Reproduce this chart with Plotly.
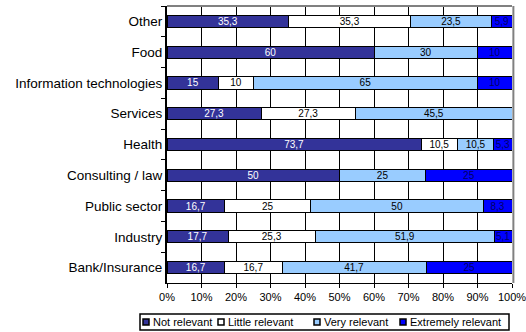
import plotly.graph_objects as go

categories = ["Other", "Food", "Information technologies", "Services", "Health",
              "Consulting / law", "Public sector", "Industry", "Bank/Insurance"]

not_relevant = [35.3, 60, 15, 27.3, 73.7, 50, 16.7, 17.7, 16.7]
little_relevant = [35.3, 0, 10, 27.3, 10.5, 0, 25, 25.3, 16.7]
very_relevant = [23.5, 30, 65, 45.5, 10.5, 25, 50, 51.9, 41.7]
extremely_relevant = [5.9, 10, 10, 0, 5.3, 25, 8.3, 5.1, 25]

series = [
    ("Not relevant", not_relevant, "#333399", "white"),
    ("Little relevant", little_relevant, "#FFFFFF", "black"),
    ("Very relevant", very_relevant, "#99CCFF", "black"),
    ("Extremely relevant", extremely_relevant, "#0000FF", "#000066"),
]

W, H = 526, 332
L, R, T, B = 167, 14, 6, 49
pw, ph = W - L - R, H - T - B


def px_x(x):
    return (x - L) / pw


def px_y(y):
    return (H - B - y) / ph


def label(v):
    if v == 0:
        return ""
    return ("%g" % v).replace(".", ",")


fig = go.Figure()
for name, vals, color, tcolor in series:
    fig.add_trace(go.Bar(
        y=categories, x=vals, name=name, orientation="h",
        marker=dict(color=color, line=dict(color="black", width=1)),
        text=[label(v) for v in vals],
        textposition="inside", insidetextanchor="middle", textangle=0,
        insidetextfont=dict(color=tcolor, size=10),
        showlegend=False,
    ))

fig.update_layout(
    barmode="stack",
    bargap=0.6,
    width=W, height=H,
    margin=dict(l=L, r=R, t=T, b=B),
    paper_bgcolor="white", plot_bgcolor="white",
    font=dict(family="Liberation Sans, Arial, sans-serif", size=11, color="black"),
    uniformtext=dict(minsize=10, mode="show"),
)
fig.update_xaxes(range=[0, 100], dtick=10, ticksuffix="%", showgrid=True,
                 gridcolor="black", gridwidth=1, showline=True, linecolor="black",
                 linewidth=1, ticks="outside", ticklen=4, tickcolor="black",
                 zeroline=False, tickfont=dict(size=11), automargin=False,
                 ticklabeloverflow="allow")
fig.update_yaxes(autorange="reversed", showline=True, linecolor="black", linewidth=2,
                 ticks="outside", ticklen=4, tickcolor="black", tickson="boundaries",
                 showgrid=False, tickfont=dict(size=13.5), automargin=False)
fig.add_shape(type="line", xref="paper", yref="paper", x0=0, x1=1, y0=1, y1=1,
              line=dict(color="#808080", width=2))
fig.add_shape(type="line", xref="paper", yref="paper", x0=1.004, x1=1.004, y0=0, y1=1,
              line=dict(color="#808080", width=2))

# legend drawn by hand, compact like the original
fig.add_shape(type="rect", xref="paper", yref="paper",
              x0=px_x(140), x1=px_x(509), y0=px_y(314), y1=px_y(330),
              line=dict(color="black", width=1.5), fillcolor="white")
item_x = [143, 218, 314, 400]
for (name, vals, color, tcolor), x in zip(series, item_x):
    fig.add_shape(type="rect", xref="paper", yref="paper",
                  x0=px_x(x), x1=px_x(x + 6), y0=px_y(319), y1=px_y(325),
                  line=dict(color="black", width=1.5), fillcolor=color)
    fig.add_annotation(x=px_x(x + 8), y=px_y(322), xref="paper", yref="paper",
                       text=name, showarrow=False, xanchor="left", yanchor="middle",
                       font=dict(size=11, color="black"))

fig.write_html(
    "out.html",
    config={"displayModeBar": False},
    post_script="document.body.style.margin='0';document.body.style.overflow='hidden';",
)
